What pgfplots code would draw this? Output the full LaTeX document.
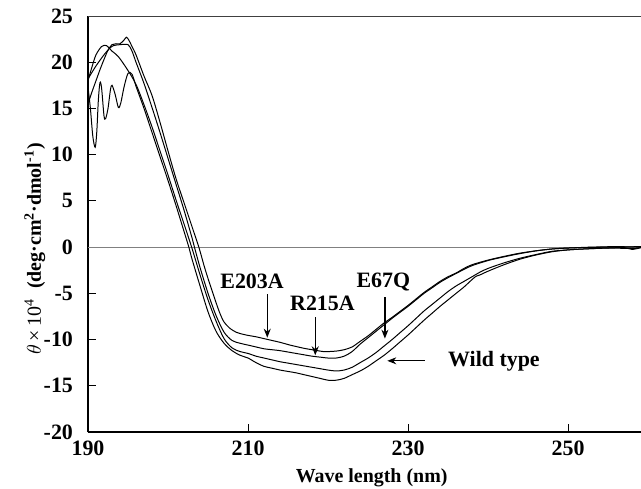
\documentclass[border=0pt]{standalone}
\usepackage{fontspec}
\setmainfont{Liberation Serif}
\usepackage{pgfplots}
\pgfplotsset{compat=1.18}
\usetikzlibrary{arrows.meta}

\pgfplotstableread{
x y
190 15.5
190.5 16.8
191 18.0
191.5 19.2
192 20.3
192.5 21.3
193 21.9
193.5 22.0
194 22.0
194.5 22.4
194.8 22.7
195.1 22.4
195.5 21.7
196 20.8
197 18.5
198 16.4
199 13.5
200 10.4
201 7.4
202 4.8
203 2.2
203.85 0
204.5 -2.0
205 -3.4
205.5 -4.7
206 -6.0
206.5 -7.2
207 -8.1
207.75 -8.8
208.5 -9.2
209 -9.35
210 -9.55
211 -9.7
212 -9.9
213 -10.1
214 -10.3
215.25 -10.6
216 -10.75
217 -10.95
218 -11.1
219.4 -11.3
220 -11.3
221 -11.25
222 -11.1
223 -10.8
224 -10.2
225 -9.6
226 -8.9
227 -8.2
228 -7.6
229 -6.95
230 -6.3
231 -5.6
232 -4.9
233 -4.3
234 -3.7
235 -3.2
236 -2.8
237 -2.3
238 -1.9
240 -1.4
242 -1.0
244 -0.65
246 -0.4
248 -0.2
250 -0.1
252 -0.05
255 0
259.1 0.05
}\eTwoOThreeA

\pgfplotstableread{
x y
190 18.2
191 19.6
192 20.8
192.7 21.5
193.2 21.8
194 21.9
195 21.9
195.5 21.2
196 20.0
197 17.7
198 15.1
199 12.4
200 9.6
201 6.8
202 4.0
203 1.0
203.3 0
204 -2.2
205 -5.0
206 -7.4
207 -9.2
208 -10.1
209 -10.4
210 -10.6
211 -10.8
212 -11.0
213 -11.1
214 -11.2
215 -11.35
216 -11.5
217 -11.65
218 -11.8
219 -11.9
220 -12.0
221 -12.0
222 -11.8
223 -11.3
224 -10.5
225 -9.8
226 -9.1
227 -8.4
228 -7.7
229 -7.05
230 -6.4
231 -5.7
232 -5.0
233 -4.4
234 -3.8
235 -3.3
236 -2.85
237 -2.4
238 -2.0
240 -1.45
242 -1.05
244 -0.7
246 -0.4
248 -0.2
250 -0.1
253 0
256 0.05
259.1 0
}\rTwoOneFiveA

\pgfplotstableread{
x y
190 18.0
190.5 19.5
191 20.8
191.7 21.7
192.3 21.8
193 21.2
193.8 20.6
195 19.1
196 17.6
197 15.4
198 13.0
199 10.4
200 7.8
201 5.1
202 2.5
202.95 0
204 -3.0
205 -5.7
206 -8.0
207 -9.9
208 -10.9
209 -11.3
210 -11.5
211 -11.8
212 -12.0
213 -12.2
214 -12.4
215 -12.55
216 -12.7
217 -12.85
218 -13.0
219 -13.15
220 -13.3
221 -13.4
222 -13.3
223 -13.0
224 -12.5
225 -12.0
226 -11.4
227 -10.7
228 -10.0
229 -9.25
230 -8.5
231 -7.7
232 -6.9
233 -6.2
234 -5.5
235 -4.8
236 -4.2
237 -3.7
238 -3.2
239 -2.7
240 -2.3
242 -1.7
244 -1.2
246 -0.8
248 -0.45
250 -0.3
252 -0.2
255 -0.1
258 -0.15
259.1 -0.05
}\eSixSevenQ

\pgfplotstableread{
x y
190 17.3
190.3 15.0
190.6 12.0
190.9 10.8
191.1 12.5
191.3 16.0
191.5 17.8
191.7 17.2
192.0 14.2
192.2 13.9
192.5 15.0
192.8 17.0
193.0 17.5
193.4 16.5
193.8 15.1
194.1 15.6
194.5 17.3
195.0 18.8
195.5 18.7
196 17.4
197 15.0
198 12.4
199 9.8
200 7.2
201 4.5
202 1.7
202.6 0
203 -1.3
204 -4.2
205 -7.0
206 -9.1
207 -10.4
208 -11.2
209 -11.7
210 -12.0
211 -12.5
212 -12.9
213 -13.1
214 -13.3
215 -13.45
216 -13.6
217 -13.8
218 -14.0
219 -14.2
220 -14.4
221 -14.4
222 -14.2
223 -13.8
224 -13.4
225 -12.9
226 -12.3
227 -11.7
228 -11.0
229 -10.25
230 -9.5
231 -8.7
232 -7.9
233 -7.15
234 -6.4
235 -5.7
236 -5.0
237 -4.3
238 -3.5
238.5 -3.15
239 -3.0
240 -2.6
242 -1.9
244 -1.3
246 -0.85
248 -0.5
250 -0.3
252 -0.2
255 -0.1
257 -0.05
258 -0.25
259.1 -0.05
}\wildtype

\begin{document}
\begin{tikzpicture}
\useasboundingbox (-44bp,-28.5bp) rectangle (276.5bp,216bp);
\begin{axis}[at={(0,0)}, anchor=south west,
  scale only axis, width=276.5bp, height=208bp,
  xmin=190, xmax=259.1, ymin=-20, ymax=25,
  axis x line*=bottom, axis y line*=left,
  axis line style={line width=0.8pt, -},
  tick style={black, line width=0.5pt},
  tick align=inside, major tick length=4bp,
  xtick={190,210,230,250}, xticklabels={190,210,230,250},
  ytick={-20,-15,-10,-5,0,5,10,15,20,25},
  yticklabels={-20,-15,-10,-5,0,5,10,15,20,25},
  tick label style={font=\fontsize{11}{13}\selectfont\bfseries},
  yticklabel style={xshift=-4bp},
  xticklabel style={yshift=-1bp},
  xlabel={\textbf{Wave length (nm)}},
  ylabel={$\theta$\,×\,10\textsuperscript{4}\enspace\textbf{(deg·cm\textsuperscript{2}·dmol\textsuperscript{-1})}},
  label style={font=\fontsize{11}{13}\selectfont},
  every axis x label/.style={at={(axis description cs:0.513,-0.111)}, anchor=center},
  every axis y label/.style={at={(axis description cs:-0.096,0.44)}, anchor=center, rotate=90},
  clip=true]
  \addplot[gray, line width=0.6pt] coordinates {(190,0) (259.1,0)};
  \addplot[black, line width=0.5pt, smooth, tension=0.5] table[x=x,y=y] {\eTwoOThreeA};
  \addplot[black, line width=0.5pt, smooth, tension=0.5] table[x=x,y=y] {\rTwoOneFiveA};
  \addplot[black, line width=0.5pt, smooth, tension=0.5] table[x=x,y=y] {\eSixSevenQ};
  \addplot[black, line width=0.5pt, smooth, tension=0.5] table[x=x,y=y] {\wildtype};
  \draw[black!75, line width=1.2pt] (rel axis cs:0,1) -- (rel axis cs:1,1);
  \begin{scope}[font=\fontsize{11}{13}\selectfont\bfseries, line width=0.6pt, -{Stealth[length=4.5bp,width=3.5bp]}]
    \node at (axis cs:210.5,-3.7) {E203A};
    \draw (axis cs:212.4,-5.1) -- (axis cs:212.4,-9.8);
    \node at (axis cs:219.3,-6.1) {R215A};
    \draw (axis cs:218.4,-7.6) -- (axis cs:218.4,-11.7);
    \node at (axis cs:226.9,-3.8) {E67Q};
    \draw (axis cs:227.1,-5.4) -- (axis cs:227.1,-9.9);
    \node[anchor=west] at (axis cs:234.1,-12.4) {Wild type};
    \draw (axis cs:232.1,-12.3) -- (axis cs:227.4,-12.3);
  \end{scope}
\end{axis}
\end{tikzpicture}
\end{document}
